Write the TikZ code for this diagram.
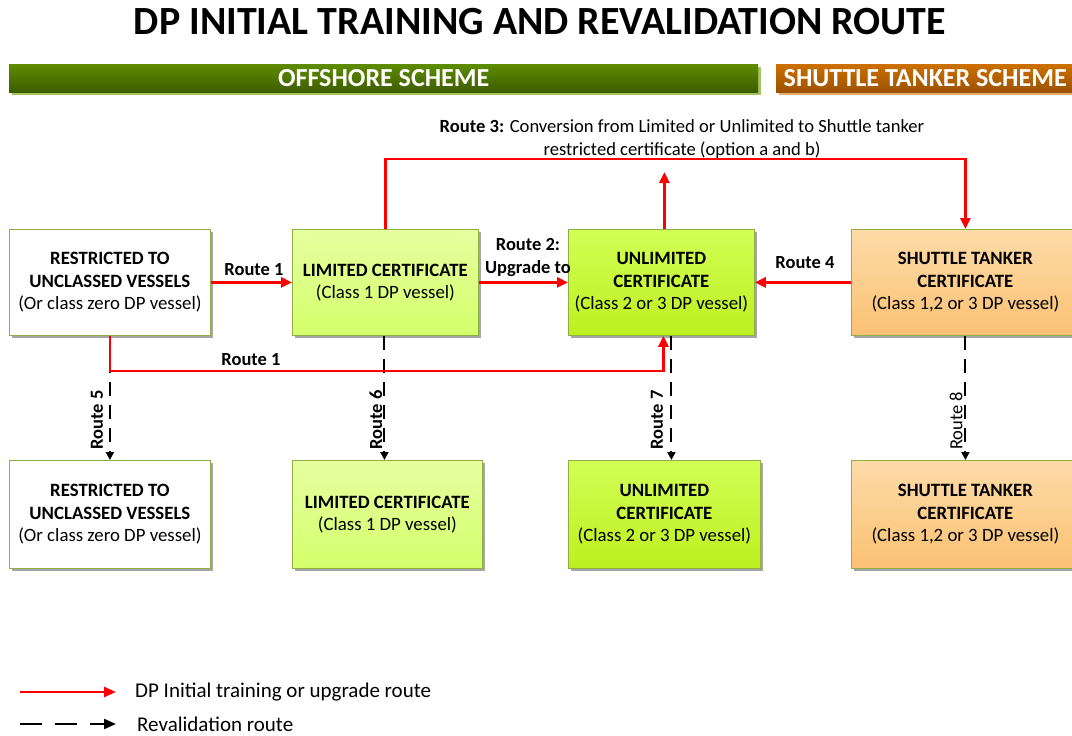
\documentclass[tikz,border=0pt]{standalone}
\usepackage{fontspec}
\setmainfont{Carlito}
\usetikzlibrary{arrows.meta,shadows,calc}
\definecolor{boxborder}{HTML}{8FAF45}
\definecolor{limtop}{HTML}{E6FFA0}
\definecolor{limbot}{HTML}{D4FF6A}
\definecolor{unltop}{HTML}{D2FF55}
\definecolor{unlbot}{HTML}{BDF020}
\definecolor{shtop}{HTML}{FDDBA8}
\definecolor{shbot}{HTML}{FBC173}
\definecolor{offtop}{HTML}{5E8C00}
\definecolor{offbot}{HTML}{3E5C00}
\definecolor{offshad}{HTML}{A3C260}
\definecolor{shuttop}{HTML}{CC7000}
\definecolor{shutbot}{HTML}{9C5200}
\definecolor{shutshad}{HTML}{E8B070}
\definecolor{routered}{HTML}{FF0000}
\tikzset{
  cbox/.style={draw=boxborder, line width=0.8pt, anchor=north west, align=center, inner sep=0pt,
    font=\fontsize{18.8}{22.5}\selectfont,
    general shadow={fill=black!35, shadow xshift=3pt, shadow yshift=-3pt}},
  whitebox/.style={cbox, fill=white},
  limbox/.style={cbox, top color=limtop, bottom color=limbot},
  unlbox/.style={cbox, top color=unltop, bottom color=unlbot},
  shbox/.style={cbox, top color=shtop, bottom color=shbot},
  redarrow/.style={draw=routered, line width=2.8pt, -{Triangle[length=11pt,width=10pt]}},
  revarrow/.style={draw=black, line width=2pt, dash pattern=on 14pt off 9pt, -{Triangle[length=8pt,width=8pt]}},
  lbl/.style={font=\fontsize{18.5}{23}\selectfont\bfseries, inner sep=1pt},
  vlbl/.style={font=\fontsize{18.5}{21}\selectfont, inner sep=0pt, rotate=90},
  vlblb/.style={vlbl, font=\fontsize{18.5}{21}\selectfont\bfseries},
  hdr/.style={anchor=north west, minimum height=28pt, inner sep=0pt, text=white,
    font=\fontsize{26}{28}\selectfont\bfseries},
}
\begin{document}
\begin{tikzpicture}[x=1pt,y=-1pt]
\useasboundingbox[fill=white] (0,0) rectangle (1072,736);
% title
\node[font=\fontsize{40}{44}\selectfont\bfseries] (title) at (540,22) {DP INITIAL TRAINING AND REVALIDATION ROUTE};
% header bars
\fill[offshad] (12,67) rectangle (761,95);
\node[hdr, minimum width=749pt, top color=offtop, bottom color=offbot] (offh) at (9,64) {OFFSHORE SCHEME};
\fill[shutshad] (779,67) rectangle (1080,95);
\node[hdr, minimum width=300pt, top color=shuttop, bottom color=shutbot] (shuth) at (776,64) {\hspace*{-2pt}SHUTTLE TANKER SCHEME};
% top row boxes
\node[whitebox, minimum width=201pt, minimum height=106pt] (A) at (9,229) {\textbf{RESTRICTED TO}\\\textbf{UNCLASSED VESSELS}\\(Or class zero DP vessel)};
\node[limbox, minimum width=186pt, minimum height=106pt] (B) at (292,229) {\textbf{LIMITED CERTIFICATE}\\(Class 1 DP vessel)};
\node[unlbox, minimum width=186pt, minimum height=106pt] (C) at (568,229) {\textbf{UNLIMITED}\\\textbf{CERTIFICATE}\\(Class 2 or 3 DP vessel)};
\node[shbox, minimum width=228pt, minimum height=106pt] (D) at (851,229) {\textbf{SHUTTLE TANKER}\\\textbf{CERTIFICATE}\\(Class 1,2 or 3 DP vessel)};
% bottom row boxes
\node[whitebox, minimum width=201pt, minimum height=108pt] (A2) at (9,460) {\textbf{RESTRICTED TO}\\\textbf{UNCLASSED VESSELS}\\(Or class zero DP vessel)};
\node[limbox, minimum width=190pt, minimum height=108pt] (B2) at (292,460) {\textbf{LIMITED CERTIFICATE}\\(Class 1 DP vessel)};
\node[unlbox, minimum width=192pt, minimum height=108pt] (C2) at (568,460) {\textbf{UNLIMITED}\\\textbf{CERTIFICATE}\\(Class 2 or 3 DP vessel)};
\node[shbox, minimum width=228pt, minimum height=108pt] (D2) at (851,460) {\textbf{SHUTTLE TANKER}\\\textbf{CERTIFICATE}\\(Class 1,2 or 3 DP vessel)};
% revalidation (dashed) routes
\draw[revarrow] (A.south) -- (A.south |- A2.north);
\draw[revarrow] ($(B.south)+(-1,0)$) -- ($(B.south |- B2.north)+(-1,0)$);
\draw[revarrow] ($(C.south)+(10,0)$) -- ($(C.south |- C2.north)+(10,0)$);
\draw[revarrow] (D.south) -- (D.south |- D2.north);
\node[vlblb] (r5) at (97,420) {Route 5};
\node[vlblb] (r6) at (376,420) {Route 6};
\node[vlblb] (r7) at (657,420) {Route 7};
\node[vlbl] (r8) at (956,421) {Route 8};
% red routes
\draw[redarrow] (A.east) -- (B.west);
\node[lbl] (r1a) at (254,270) {Route 1};
\draw[redarrow] (B.east) -- (C.west);
\node[lbl, align=center] (r2) at (528,257) {Route 2:\\Upgrade to};
\draw[redarrow] (D.west) -- (C.east);
\node[lbl] (r4) at (805,263) {Route 4};
\coordinate (r3l) at (B.north |- 0,159);
\coordinate (r3r) at (D.north |- 0,159);
\draw[redarrow] (B.north) -- (r3l) -- (r3r) -- (D.north);
\coordinate (cup) at ($(C.north)+(3,0)$);
\coordinate (cuptip) at ($(C.north)+(3,-57)$);
\draw[redarrow] (cup) -- (cuptip);
\node[align=center, font=\fontsize{18.6}{23}\selectfont] (r3) at (682,139.5) {\textbf{Route 3:} Conversion from Limited or Unlimited to Shuttle tanker\\restricted certificate (option a and b)};
\coordinate (r1b) at (A.south |- 0,371);
\coordinate (cdn) at ($(C.south)+(2,0)$);
\coordinate (r1c) at (cdn |- 0,371);
\draw[redarrow] (A.south) -- (r1b) -- (r1c) -- (cdn);
\node[lbl] (r1low) at (251,360) {Route 1};
% legend
\coordinate (l1a) at (20,692);
\coordinate (l1b) at (116,692);
\draw[draw=routered, line width=2.2pt, -{Triangle[length=12pt,width=10pt]}] (l1a) -- (l1b);
\node[anchor=west, font=\fontsize{21}{24}\selectfont, inner sep=0pt] (leg1) at (135,692) {DP Initial training or upgrade route};
\coordinate (l2a) at (20,724);
\coordinate (l2b) at (116,724);
\draw[draw=black, line width=2.2pt, dash pattern=on 22pt off 13pt, -{Triangle[length=12pt,width=10pt]}] (l2a) -- (l2b);
\node[anchor=west, font=\fontsize{21}{24}\selectfont, inner sep=0pt] (leg2) at (137,724) {Revalidation route};
\end{tikzpicture}
\end{document}
